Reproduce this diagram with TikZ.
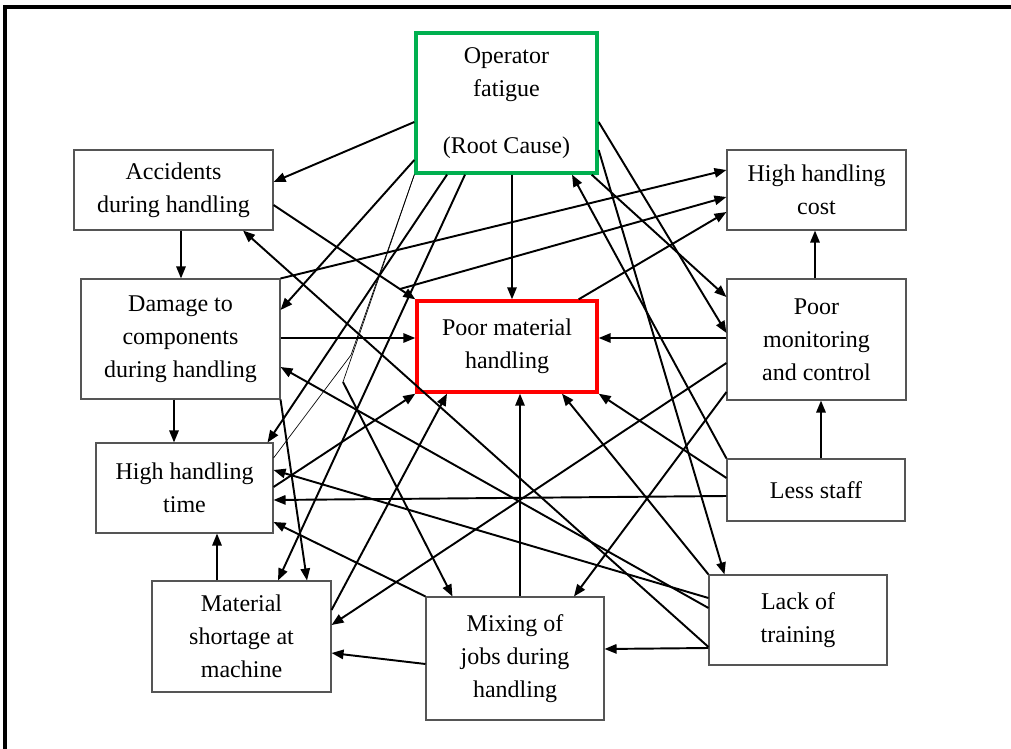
\documentclass[tikz,border=0pt]{standalone}
\usepackage{fontspec}
\setmainfont{Liberation Serif}
\usetikzlibrary{arrows.meta,calc}
\definecolor{ofgreen}{RGB}{0,176,80}
\definecolor{boxgray}{RGB}{85,85,85}
\begin{document}
\begin{tikzpicture}[x=0.75pt,y=-0.75pt,
  box/.style={draw=boxgray, line width=0.8pt, fill=white, inner sep=0pt, align=center,
    font=\fontsize{18}{24.75}\selectfont},
  rootbox/.style={box, draw=ofgreen, line width=2.5pt},
  keybox/.style={box, draw=red, line width=2.5pt},
  arr/.style={line width=1.45pt, -{Triangle[length=9pt,width=7pt]}},
  thinline/.style={line width=0.5pt}]
\useasboundingbox (0,0) rectangle (1011,749);
% frame
\draw[line width=2.6pt] (1011,7) -- (5,7) -- (5,749);
% nodes
\node[rootbox, minimum width={181*0.75pt}, minimum height={140*0.75pt}] (of) at (506.5,103) {Operator\\fatigue\\[18pt](Root Cause)};
\node[box, minimum width={199*0.75pt}, minimum height={80*0.75pt}] (acc) at (173.5,190) {Accidents\\during handling};
\node[box, minimum width={199*0.75pt}, minimum height={120*0.75pt}] (dmg) at (180.5,339) {Damage to\\components\\during handling};
\node[keybox, minimum width={180*0.75pt}, minimum height={91*0.75pt}] (pmh) at (507,346.5) {Poor material\\handling};
\node[box, minimum width={179*0.75pt}, minimum height={80*0.75pt}] (hhc) at (816.5,190) {High handling\\cost};
\node[box, minimum width={179*0.75pt}, minimum height={121*0.75pt}] (pmc) at (816.5,339.5) {Poor\\monitoring\\and control};
\node[box, minimum width={177*0.75pt}, minimum height={90*0.75pt}] (hht) at (184.5,488) {High handling\\time};
\node[box, minimum width={178*0.75pt}, minimum height={62*0.75pt}] (ls) at (816,490) {Less staff};
\node[box, minimum width={179*0.75pt}, minimum height={111*0.75pt}] (ms) at (241.5,636.5) {Material\\shortage at\\machine};
\node[box, minimum width={178*0.75pt}, minimum height={123*0.75pt}] (mix) at (515,658.5) {Mixing of\\jobs during\\handling};
\node[box, minimum width={178*0.75pt}, minimum height={90*0.75pt}] (lot) at (798,620) {Lack of\\training};
% free points
\coordinate (kinkA) at (343,382);
\coordinate (kinkB) at (351,355);
\coordinate (freeH) at (400,289);
% connectors from Operator fatigue
\draw[arr] ($(of.west)+(0,19)$) -- ($(acc.east)+(0,-8)$);
\draw[arr] ($(of.west)+(0,57)$) -- ($(dmg.east)+(0,-29)$);
\draw[arr] ($(of.south)+(5.5,0)$) -- ($(pmh.north)+(5,0)$);
\draw[arr] ($(of.south)+(-59.5,0)$) -- ($(hht.north east)+(-6,0)$);
\draw[arr] ($(of.south)+(-41.5,0)$) -- ($(ms.north)+(36.5,0)$);
\draw[arr] ($(of.east)+(0,19)$) -- ($(pmc.west)+(0,-6.5)$);
\draw[arr] ($(of.south east)+(-7,0)$) -- ($(pmc.west)+(0,-42.5)$);
\draw[arr] ($(of.east)+(0,47)$) -- ($(lot.north west)+(16,0)$);
\draw[thinline] (of.south west) -- (kinkA);
\draw[arr] (kinkA) -- ($(mix.north west)+(27,0)$);
\draw[thinline] (of.south west) -- (kinkB) -- ($(hht.east)+(0,-30)$);
% Accidents
\draw[arr] ($(acc.south)+(7.5,0)$) -- ($(dmg.north)+(0.5,0)$);
\draw[arr] ($(acc.east)+(0,15)$) -- (pmh.north west);
% Damage
\draw[arr] (dmg.north east) -- ($(hhc.west)+(0,-20)$);
\draw[arr] ($(dmg.east)+(0,-1)$) -- ($(pmh.west)+(0,-8.5)$);
\draw[arr] ($(dmg.south)+(-6.5,0)$) -- ($(hht.north)+(-10.5,0)$);
\draw[arr] (dmg.south east) -- ($(ms.north)+(65.5,0)$);
% to high handling cost
\draw[arr] (freeH) -- ($(hhc.west)+(0,7)$);
\draw[arr] ($(pmh.north east)+(-20,0)$) -- ($(hhc.west)+(0,22)$);
% Lack of training
\draw[arr] ($(lot.west)+(0,-12)$) -- ($(dmg.east)+(0,28)$);
\draw[arr] ($(lot.west)+(0,27)$) -- ($(acc.south)+(69.5,0)$);
\draw[arr] ($(lot.west)+(0,-22)$) -- ($(hht.east)+(0,-18)$);
\draw[arr] (lot.north west) -- ($(pmh.south)+(55,0)$);
\draw[arr] ($(lot.west)+(0,28)$) -- ($(mix.east)+(0,-9.5)$);
% Less staff
\draw[arr] (ls.north west) -- ($(of.south)+(65.5,0)$);
\draw[arr] ($(ls.west)+(0,-12)$) -- (pmh.south east);
\draw[arr] ($(ls.west)+(0,6)$) -- ($(hht.east)+(0,12)$);
\draw[arr] ($(ls.north)+(5,0)$) -- ($(pmc.south)+(4.5,0)$);
% Poor monitoring and control
\draw[arr] ($(pmc.north)+(-1.5,0)$) -- ($(hhc.south)+(-1.5,0)$);
\draw[arr] ($(pmc.west)+(0,-1.5)$) -- ($(pmh.east)+(0,-8.5)$);
\draw[arr] ($(pmc.west)+(0,23.5)$) -- ($(ms.east)+(0,-11.5)$);
\draw[arr] ($(pmc.west)+(0,52.5)$) -- ($(mix.north)+(59,0)$);
% High handling time
\draw[arr] ($(hht.east)+(0,-1)$) -- (pmh.south west);
% Material shortage
\draw[arr] ($(ms.north)+(-24.5,0)$) -- ($(hht.south)+(32.5,0)$);
\draw[arr] ($(ms.east)+(0,-26.5)$) -- ($(pmh.south)+(-60,0)$);
% Mixing of jobs
\draw[arr] (mix.north west) -- ($(hht.east)+(0,34)$);
\draw[arr] ($(mix.north)+(5,0)$) -- ($(pmh.south)+(13,0)$);
\draw[arr] ($(mix.west)+(0,5.5)$) -- ($(ms.east)+(0,16.5)$);
\end{tikzpicture}
\end{document}
